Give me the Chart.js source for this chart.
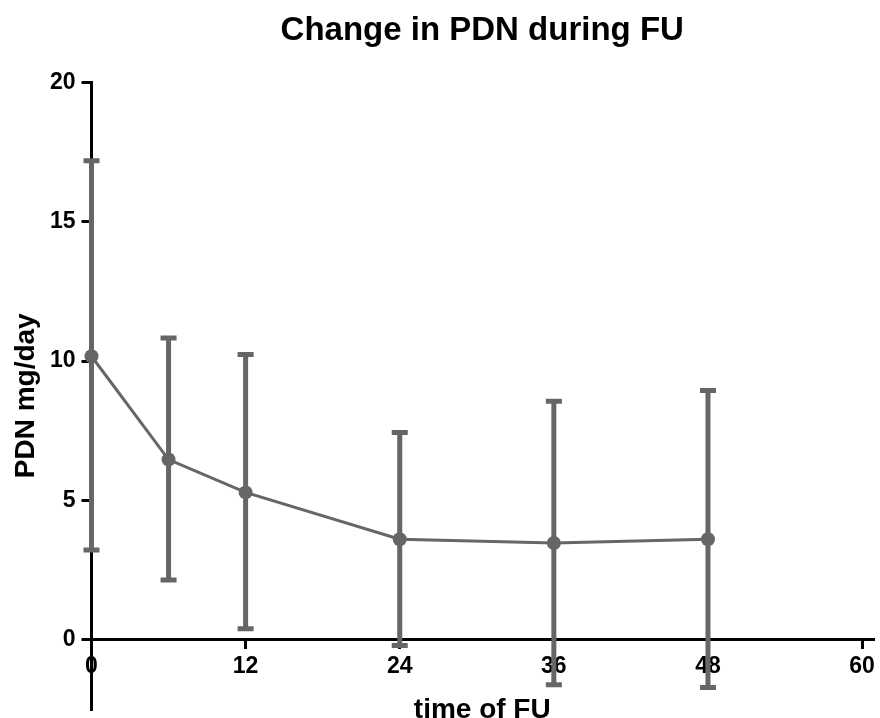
<!DOCTYPE html>
<html>
<head>
<meta charset="utf-8">
<script src="https://cdn.jsdelivr.net/npm/chart.js@4"></script>
<style>
  body { margin: 0; background: #fff; }
  #wrap { width: 880px; height: 718px; }
</style>
</head>
<body>
<div id="wrap"><canvas id="grafica"></canvas></div>
<script>
// months of follow-up, mean PDN dose and the error bar ends
const meses = [0, 6, 12, 24, 36, 48];
const pdnMedia = [10.17, 6.46, 5.28, 3.60, 3.46, 3.60];
const pdnSup = [17.19, 10.83, 10.23, 7.43, 8.55, 8.94];
const pdnInf = [3.21, 2.13, 0.38, -0.22, -1.63, -1.73];
const ticksX = [0, 12, 24, 36, 48, 60];
const ticksY = [0, 5, 10, 15, 20];

const gris = '#666666';
const fuente = "'Liberation Sans', Arial, Helvetica, sans-serif";

const barrasError = {
    id: 'barrasError',
    beforeDatasetsDraw(chart) {
        const ctx = chart.ctx;
        const x = chart.scales.x;
        const y = chart.scales.y;
        ctx.save();
        ctx.strokeStyle = gris;
        ctx.lineWidth = 5;
        meses.forEach((m, i) => {
            const px = x.getPixelForValue(m);
            const top = y.getPixelForValue(pdnSup[i]);
            const bot = y.getPixelForValue(pdnInf[i]);
            ctx.beginPath();
            ctx.moveTo(px, top);
            ctx.lineTo(px, bot);
            ctx.moveTo(px - 8, top);
            ctx.lineTo(px + 8, top);
            ctx.moveTo(px - 8, bot);
            ctx.lineTo(px + 8, bot);
            ctx.stroke();
        });
        ctx.restore();
    }
};

function sinPadding(scale) {
    scale.paddingLeft = 0;
    scale.paddingRight = 0;
    scale.paddingTop = 0;
    scale.paddingBottom = 0;
}

new Chart(document.getElementById('grafica'), {
    type: 'scatter',
    data: {
        datasets: [{
            data: meses.map((m, i) => ({ x: m, y: pdnMedia[i] })),
            showLine: true,
            borderColor: gris,
            borderWidth: 3,
            pointRadius: 7,
            pointBackgroundColor: gris,
            pointBorderWidth: 0,
            clip: false
        }]
    },
    plugins: [barrasError],
    options: {
        responsive: true,
        maintainAspectRatio: false,
        animation: false,
        layout: { padding: { top: 0, left: 0, right: 1, bottom: 9 } },
        plugins: {
            legend: { display: false },
            tooltip: { enabled: false },
            title: {
                display: true,
                text: 'Change in PDN during FU',
                fullSize: false,
                color: '#000',
                font: { family: fuente, size: 33, weight: 'bold' },
                padding: { top: 11, bottom: 32 }
            }
        },
        scales: {
            x: {
                type: 'linear',
                position: { y: 0 },
                min: 0,
                max: 60.85,
                afterBuildTicks: s => { s.ticks = ticksX.map(v => ({ value: v })); },
                afterFit: sinPadding,
                grid: { drawOnChartArea: false, drawTicks: true, tickLength: 8, lineWidth: 3, color: '#000' },
                border: { display: true, color: '#000', width: 3 },
                ticks: { color: '#000', padding: 5, maxRotation: 0, font: { family: fuente, size: 23, weight: 'bold' } },
                title: {
                    display: true,
                    text: 'time of FU',
                    color: '#000',
                    font: { family: fuente, size: 28, weight: 'bold' },
                    padding: { top: 8, bottom: 0 }
                }
            },
            y: {
                type: 'linear',
                position: 'left',
                min: -2.5,
                max: 20,
                afterBuildTicks: s => { s.ticks = ticksY.map(v => ({ value: v })); },
                afterFit: s => { sinPadding(s); s.width = 91.5; },
                grid: { drawOnChartArea: false, drawTicks: true, tickLength: 10, lineWidth: 3, color: '#000' },
                border: { display: true, color: '#000', width: 3 },
                ticks: { color: '#000', padding: 6, font: { family: fuente, size: 23, weight: 'bold' } },
                title: {
                    display: true,
                    text: 'PDN mg/day',
                    color: '#000',
                    font: { family: fuente, size: 28, weight: 'bold' },
                    padding: { top: 9, bottom: 0 }
                }
            }
        }
    }
});
</script>
</body>
</html>
